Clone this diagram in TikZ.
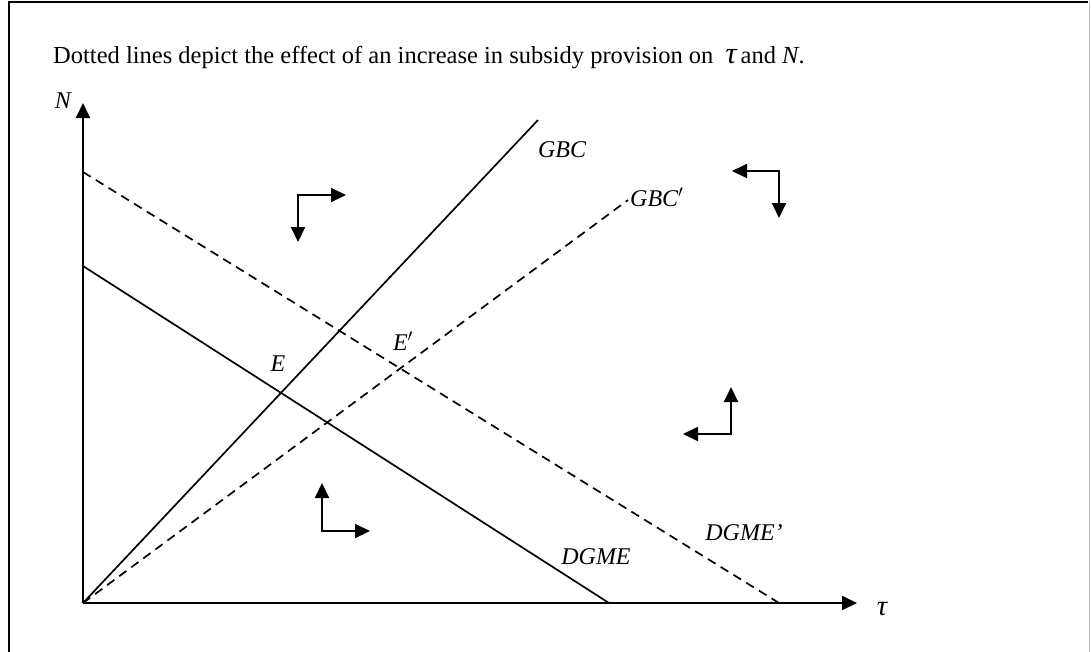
\documentclass[tikz,border=0pt]{standalone}
\usepackage{fontspec}
\setmainfont{Liberation Serif}
\usetikzlibrary{arrows.meta}
\begin{document}
\begin{tikzpicture}[x=1pt,y=-1pt,
  tip/.style={-{Triangle[length=15pt,width=14pt]}},
  axis/.style={line width=2pt,tip},
  curve/.style={line width=1.7pt},
  dashcurve/.style={line width=1.7pt,dash pattern=on 9pt off 6pt},
  dyn/.style={line width=2pt,{Triangle[length=15pt,width=14pt]}-{Triangle[length=15pt,width=14pt]}},
  lab/.style={font=\fontsize{24}{28}\selectfont\itshape, inner sep=0pt},
  txt/.style={font=\fontsize{24.5}{28}\selectfont, inner sep=0pt}]
\useasboundingbox (0,0) rectangle (1091,651);
% frame
\draw[line width=2pt] (9,700) -- (9,1.5) -- (1088,1.5);
\draw[line width=1pt,gray!50] (1089,1.5) -- (1089,700);
% caption
\node[txt,anchor=base west] (cap) at (53,63) {Dotted lines depict the effect of an increase in subsidy provision on \ \textit{\scalebox{1.25}{τ}}\,and \textit{N}.};
% axes
\coordinate (O) at (83,603);
\coordinate (ytop) at (83,103);
\coordinate (xend) at (857,603);
\draw[axis] (O) -- (ytop);
\draw[axis] (O) -- (xend);
\node[lab] (Nlab) at (63,101) {N};
\node[lab] (taulab) at (882,609) {\scalebox{1.2}{τ}};
% curves
\coordinate (gbcEnd) at (538,120);
\coordinate (gbcpEnd) at (628,200);
\coordinate (dgmeS) at (83,266);
\coordinate (dgmeE) at (609,603);
\coordinate (dgmepS) at (83,172);
\coordinate (dgmepE) at (779,603);
\draw[curve] (O) -- (gbcEnd);
\draw[dashcurve] (O) -- (gbcpEnd);
\draw[curve] (dgmeS) -- (dgmeE);
\draw[dashcurve] (dgmepS) -- (dgmepE);
% labels
\node[lab] (gbc) at (562,150) {GBC};
\node[lab,anchor=west] (gbcp) at (630,197) {GBC$'$};
\node[lab] (dgme) at (596,557) {DGME};
\node[lab] (dgmep) at (744,533) {DGME’};
\node[lab] (E) at (278,364) {E};
\node[lab] (Ep) at (403,341) {E$'$};
% dynamics arrows
\coordinate (c1) at (298,195);
\coordinate (d1) at (298,242);
\coordinate (r1) at (346,195);
\draw[dyn] (d1) -- (c1) -- (r1);
\coordinate (c2) at (779,171);
\coordinate (l2) at (732,171);
\coordinate (d2) at (779,218);
\draw[dyn] (l2) -- (c2) -- (d2);
\coordinate (c3) at (731,434);
\coordinate (u3) at (731,387);
\coordinate (l3) at (683,434);
\draw[dyn] (u3) -- (c3) -- (l3);
\coordinate (c4) at (322,531);
\coordinate (u4) at (322,483);
\coordinate (r4) at (370,531);
\draw[dyn] (u4) -- (c4) -- (r4);
\end{tikzpicture}
\end{document}
